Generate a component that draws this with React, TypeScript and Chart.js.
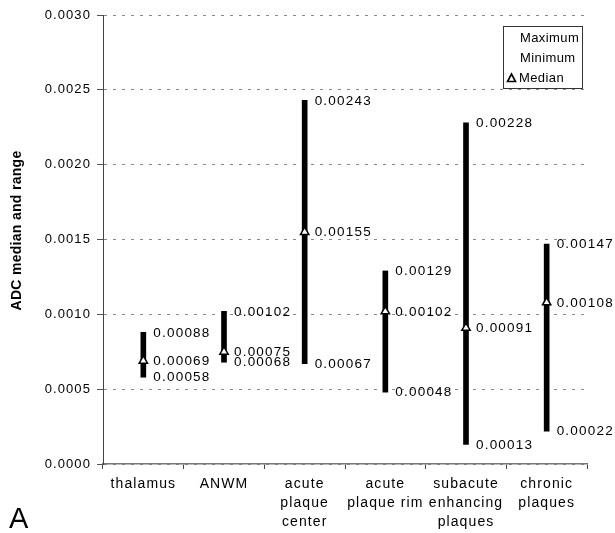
import React, { useEffect, useRef } from "react";
import { Chart, registerables } from "chart.js";

Chart.register(...registerables);

// ---- data ----
const categories: string[][] = [
  ["thalamus"],
  ["ANWM"],
  ["acute", "plaque", "center"],
  ["acute", "plaque rim"],
  ["subacute", "enhancing", "plaques"],
  ["chronic", "plaques"],
];
const maximum = [0.00088, 0.00102, 0.00243, 0.00129, 0.00228, 0.00147];
const minimum = [0.00058, 0.00068, 0.00067, 0.00048, 0.00013, 0.00022];
const median = [0.00069, 0.00075, 0.00155, 0.00102, 0.00091, 0.00108];
const yMin = 0;
const yMax = 0.003;
const yStep = 0.0005;
const yTitle = "ADC median and range";
const legendLabels = ["Maximum", "Minimum", "Median"];
const panelLetter = "A";

const FONT = "Arial, 'Liberation Sans', Helvetica, sans-serif";
const SPACING = "1.1px";

const spacingPlugin = {
  id: "spacing",
  beforeUpdate(chart: any) {
    chart.ctx.letterSpacing = SPACING;
  },
  beforeLayout(chart: any) {
    chart.ctx.letterSpacing = SPACING;
  },
  beforeDraw(chart: any) {
    chart.ctx.letterSpacing = SPACING;
  },
};

const decorPlugin = {
  id: "decor",
  afterDatasetsDraw(chart: any) {
    const ctx = chart.ctx;
    const y = chart.scales.y;
    const meta = chart.getDatasetMeta(0);
    ctx.save();
    ctx.letterSpacing = "1.2px";
    ctx.font = `13.5px ${FONT}`;
    ctx.fillStyle = "#000";
    ctx.textAlign = "left";
    ctx.textBaseline = "middle";
    meta.data.forEach((el: any, i: number) => {
      const x = el.x + 10;
      [maximum[i], median[i], minimum[i]].forEach((v) => {
        ctx.fillText(v.toFixed(5), x, y.getPixelForValue(v) + 0.5);
      });
    });
    ctx.restore();
  },
  afterDraw(chart: any) {
    const ctx = chart.ctx;
    const area = chart.chartArea;
    // y-axis title
    ctx.save();
    ctx.letterSpacing = "0.3px";
    ctx.translate(17, (area.top + area.bottom) / 2 - 9);
    ctx.rotate(-Math.PI / 2);
    ctx.font = `bold 14px ${FONT}`;
    ctx.fillStyle = "#000";
    ctx.textAlign = "center";
    ctx.textBaseline = "middle";
    ctx.fillText(yTitle, 0, 0);
    ctx.restore();

    // legend
    const bx = area.right - 83.5;
    const by = area.top + 11.5;
    const bw = 79;
    const bh = 62;
    ctx.save();
    ctx.fillStyle = "#fff";
    ctx.fillRect(bx, by, bw, bh);
    ctx.strokeStyle = "#333";
    ctx.lineWidth = 1;
    ctx.strokeRect(bx, by, bw, bh);
    ctx.letterSpacing = "0.4px";
    ctx.font = `13px ${FONT}`;
    ctx.fillStyle = "#000";
    ctx.textAlign = "left";
    ctx.textBaseline = "middle";
    legendLabels.forEach((t, i) => {
      ctx.fillText(t, bx + (i === 2 ? 15.5 : 16.5), by + 11.5 + i * 20);
    });
    // median marker
    const tx = bx + 8;
    const ty = by + 51.5;
    ctx.beginPath();
    ctx.moveTo(tx, ty - 4);
    ctx.lineTo(tx + 4, ty + 3.5);
    ctx.lineTo(tx - 4, ty + 3.5);
    ctx.closePath();
    ctx.fillStyle = "#fff";
    ctx.fill();
    ctx.strokeStyle = "#000";
    ctx.lineWidth = 1.6;
    ctx.stroke();
    ctx.restore();
  },
};

export default function App() {
  const ref = useRef<HTMLCanvasElement | null>(null);

  useEffect(() => {
    if (!ref.current) return;
    const chart = new Chart(ref.current, {
      type: "bar",
      data: {
        labels: categories,
        datasets: [
          {
            type: "bar",
            label: "Range",
            data: minimum.map((m, i) => [m, maximum[i]]) as any,
            backgroundColor: "#000",
            borderWidth: 0,
            barThickness: 5,
            order: 2,
          },
          {
            type: "line",
            label: "Median",
            data: median,
            showLine: false,
            pointStyle: "triangle",
            pointRadius: 4.8,
            pointBackgroundColor: "#fff",
            pointBorderColor: "#000",
            pointBorderWidth: 1.5,
            order: 0,
          } as any,
        ],
      },
      options: {
        animation: false,
        responsive: false,
        layout: { padding: { top: 15, right: 28, left: 0, bottom: 0 } },
        plugins: {
          legend: { display: false },
          tooltip: { enabled: false },
        },
        scales: {
          x: {
            offset: true,
            grid: {
              display: true,
              offset: true,
              drawOnChartArea: false,
              drawTicks: true,
              tickLength: 5,
              tickColor: "#444",
            },
            border: { display: true, color: "#777", width: 1.5 },
            ticks: {
              color: "#000",
              font: { family: FONT, size: 14, lineHeight: "19px" as any },
              padding: 6,
              maxRotation: 0,
              autoSkip: false,
            },
            afterFit: (s: any) => {
              s.height = 69;
            },
          },
          y: {
            min: yMin,
            max: yMax,
            grid: {
              color: "#888",
              lineWidth: 1,
              drawTicks: true,
              tickLength: 6,
              tickColor: "#555",
            },
            border: { display: true, color: "#444", width: 1, dash: [3, 6] },
            ticks: {
              stepSize: yStep,
              color: "#000",
              font: { family: FONT, size: 13 },
              padding: 6,
              callback: (v: any) => Number(v).toFixed(4),
            },
            afterFit: (s: any) => {
              s.width = 103;
            },
          },
        },
      },
      plugins: [spacingPlugin, decorPlugin],
    });
    return () => chart.destroy();
  }, []);

  return (
    <div style={{ position: "absolute", left: 0, top: 0, width: 615, height: 533, background: "#fff" }}>
      <canvas ref={ref} width={615} height={533} style={{ display: "block" }} />
      <div
        style={{
          position: "absolute",
          left: 9,
          top: 504,
          fontFamily: FONT,
          fontSize: 29,
          lineHeight: "29px",
          color: "#000",
        }}
      >
        {panelLetter}
      </div>
    </div>
  );
}
